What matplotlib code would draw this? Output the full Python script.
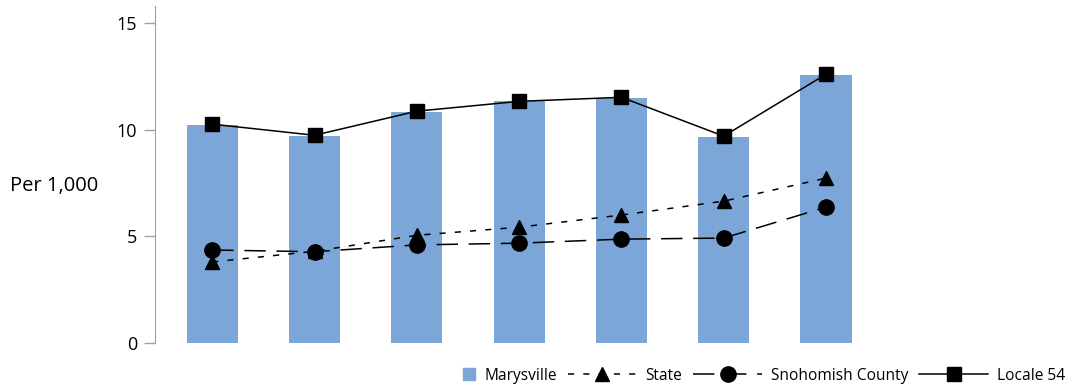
import matplotlib.pyplot as plt
import matplotlib.patches as mpatches
from matplotlib.legend_handler import HandlerPatch
import numpy as np

plt.rcParams['font.family'] = ['Open Sans', 'DejaVu Sans']

# values (per 1,000)
years = ['1', '2', '3', '4', '5', '6', '7']
marysville = [10.2, 9.7, 10.85, 11.33, 11.48, 9.65, 12.55]
state = [3.8, 4.3, 5.05, 5.43, 6.0, 6.65, 7.73]
snohomish = [4.36, 4.28, 4.6, 4.68, 4.87, 4.92, 6.37]
locale54 = [10.26, 9.74, 10.87, 11.33, 11.52, 9.7, 12.6]

bar_color = '#7ca6d8'

fig = plt.figure(figsize=(10.77, 3.86), dpi=100)
ax = fig.add_axes([0.1439, 0.1114, 0.68, 0.873])

x = np.arange(len(years))
ax.bar(x, marysville, width=0.5, color=bar_color, zorder=1)
l_state, = ax.plot(x, state, color='black', lw=1.1, ls=(0, (4, 6)), marker='^', ms=10,
                   zorder=3)
l_sno, = ax.plot(x, snohomish, color='black', lw=1.1, ls=(0, (14, 7)), marker='o', ms=11,
                 zorder=3)
l_loc, = ax.plot(x, locale54, color='black', lw=1.1, ls='-', marker='s', ms=10,
                 zorder=3)

ax.set_xlim(-0.56, 6.6)
ax.set_ylim(0, 15.8)
ax.set_yticks([0, 5, 10, 15])
ax.set_xticks([])
for s in ['top', 'right', 'bottom']:
    ax.spines[s].set_visible(False)
ax.spines['left'].set_color('#a0a0a0')
ax.tick_params(axis='y', colors='#a0a0a0', length=8, width=1, labelsize=13,
               labelcolor='black', pad=5)

ax.set_ylabel('Per 1,000', rotation=0, fontsize=14.5, labelpad=0, va='center')
ax.yaxis.set_label_coords(-0.138, 0.466)


# small square for the bar series, sitting next to its label
def square_patch(legend, orig_handle, xdescent, ydescent, width, height, fontsize):
    size = 12 * 72 / 100
    return mpatches.Rectangle((width - size - xdescent, -ydescent + (height - size) / 2),
                              size, size)


bar_proxy = mpatches.Patch(color=bar_color)
ax.legend([bar_proxy, l_state, l_sno, l_loc],
          ['Marysville', 'State', 'Snohomish County', 'Locale 54'],
          handler_map={bar_proxy: HandlerPatch(patch_func=square_patch)},
          loc='center right', bbox_to_anchor=(1.243, -0.097), ncol=4, frameon=False,
          fontsize=11.2, handlelength=4.4, columnspacing=0.7, handletextpad=0.6,
          borderpad=0, borderaxespad=0)

plt.savefig('out.png', dpi=100)
